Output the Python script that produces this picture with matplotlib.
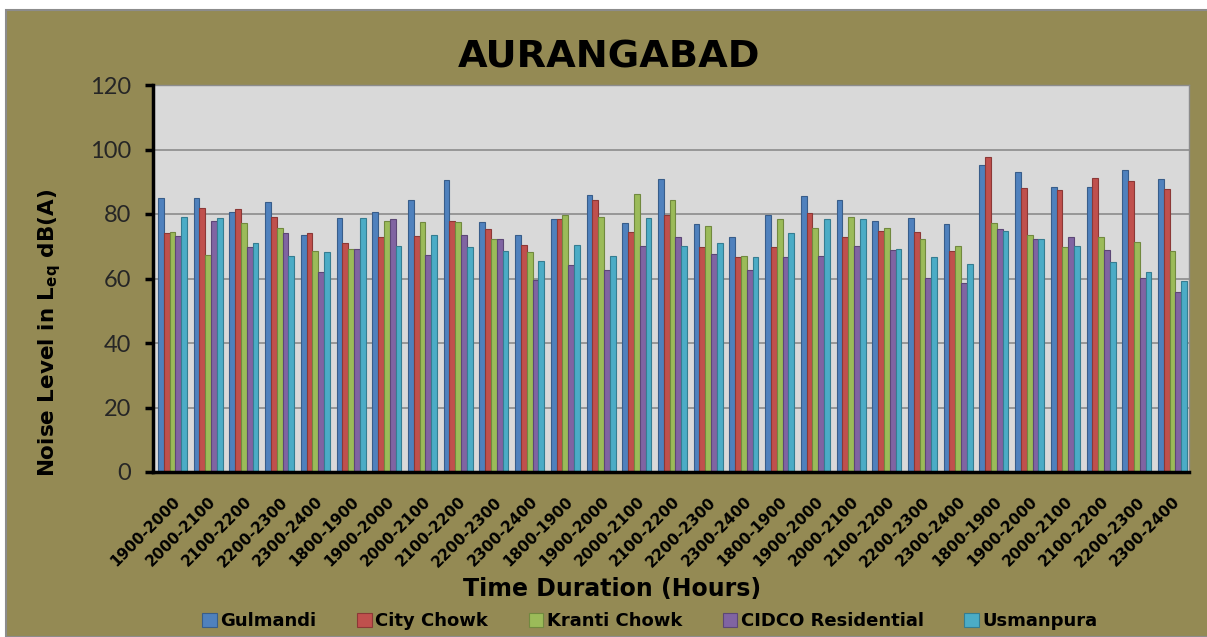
import matplotlib
matplotlib.use("Agg")
import matplotlib.pyplot as plt
from matplotlib.patches import Rectangle, Patch
import numpy as np

plt.rcParams['font.family'] = 'DejaVu Sans'
plt.rcParams['mathtext.fontset'] = 'dejavusans'

hours = ['1900-2000', '2000-2100', '2100-2200', '2200-2300', '2300-2400',
         '1800-1900', '1900-2000', '2000-2100', '2100-2200', '2200-2300', '2300-2400',
         '1800-1900', '1900-2000', '2000-2100', '2100-2200', '2200-2300', '2300-2400',
         '1800-1900', '1900-2000', '2000-2100', '2100-2200', '2200-2300', '2300-2400',
         '1800-1900', '1900-2000', '2000-2100', '2100-2200', '2200-2300', '2300-2400']

gulmandi = [85.1, 85.1, 80.7, 83.8, 73.6, 78.7, 80.7, 84.3, 90.6, 77.5, 73.6, 78.3, 85.8, 77.2, 90.9,
            76.8, 72.8, 79.6, 85.5, 84.3, 77.9, 78.7, 76.8, 95.3, 92.9, 88.5, 88.5, 93.7, 90.9]
city_chowk = [74.0, 81.9, 81.5, 79.1, 74.0, 70.9, 72.8, 73.3, 77.9, 75.2, 70.5, 78.3, 84.3, 74.4, 79.6,
              69.7, 66.6, 69.7, 80.3, 72.8, 74.8, 74.4, 68.5, 97.6, 88.1, 87.4, 91.3, 90.2, 87.8]
kranti_chowk = [74.4, 67.3, 77.2, 75.6, 68.5, 69.3, 77.9, 77.5, 77.5, 72.4, 68.1, 79.6, 79.1, 86.2, 84.3,
                76.4, 67.0, 78.3, 75.6, 79.1, 75.6, 72.1, 70.1, 77.2, 73.6, 69.7, 72.8, 71.3, 68.5]
cidco = [73.3, 77.9, 69.7, 74.0, 61.9, 69.3, 78.3, 67.3, 73.6, 72.4, 59.5, 64.2, 62.6, 70.1, 72.8,
         67.7, 62.6, 66.6, 67.0, 70.1, 68.9, 60.2, 58.7, 75.2, 72.1, 72.8, 68.9, 60.2, 55.9]
usmanpura = [79.1, 78.7, 70.9, 67.0, 68.1, 78.7, 70.1, 73.6, 69.7, 68.5, 65.3, 70.5, 67.0, 78.7, 70.1,
             70.9, 66.6, 74.0, 78.3, 78.3, 69.3, 66.6, 64.6, 74.8, 72.1, 70.1, 65.0, 61.9, 59.1]

series = ['Gulmandi', 'City Chowk', 'Kranti Chowk', 'CIDCO Residential', 'Usmanpura']
values = [gulmandi, city_chowk, kranti_chowk, cidco, usmanpura]
colors = ['#4F81BD', '#C0504D', '#9BBB59', '#8064A2', '#4BACC6']
edges = ['#385D8A', '#8C3836', '#71893F', '#5C4776', '#357D91']

olive = '#948A54'

fig = plt.figure(figsize=(12.07, 6.37), dpi=100, facecolor='white')
fig.patches.append(Rectangle((6 / 1207, 0), 1, (637 - 10) / 637, transform=fig.transFigure,
                             facecolor=olive, edgecolor='#8C8C8C', linewidth=1.5, zorder=-10))

ax = fig.add_axes([153 / 1207, 1 - 472 / 637, (1189 - 153) / 1207, (472 - 85) / 637])
ax.set_facecolor('#D9D9D9')

x = np.arange(len(hours))
w = 0.163
for i, (name, vals) in enumerate(zip(series, values)):
    ax.bar(x + (i - 2) * w, vals, width=w, color=colors[i], edgecolor=edges[i],
           linewidth=0.8, label=name, zorder=3)

ax.set_xlim(-0.546, 28.462)
ax.set_ylim(0, 120)
ax.set_yticks(range(0, 121, 20))
ax.grid(axis='y', color='#8C8C8C', linewidth=1.2, zorder=1)
ax.set_axisbelow(True)

for s in ['top', 'right']:
    ax.spines[s].set_color('#8C8C8C')
    ax.spines[s].set_linewidth(1)
for s in ['left', 'bottom']:
    ax.spines[s].set_color('black')
    ax.spines[s].set_linewidth(2.5)
    ax.spines[s].set_zorder(5)

ax.tick_params(axis='y', length=6, width=2.5, color='black', pad=10)
ax.tick_params(axis='x', length=0, pad=16)
for t in ax.get_yticklabels():
    t.set_fontfamily('Lato')
    t.set_fontsize(17)
    t.set_color('#262626')

ax.set_xticks(x)
ax.set_xticklabels(hours, rotation=45, ha='right', rotation_mode='anchor',
                   fontsize=11, fontweight='bold')

fig.text(609 / 1207, 1 - 57 / 637, 'AURANGABAD', fontsize=27.5, fontweight='bold',
         ha='center', va='center')
fig.text(50 / 1207, 1 - 333 / 637, r'Noise Level in L$_\mathbf{eq}$ dB(A)', fontsize=15.5,
         fontweight='bold', rotation=90, ha='center', va='center')
fig.text(612 / 1207, 1 - 589 / 637, 'Time Duration (Hours)', fontsize=17, fontweight='bold',
         ha='center', va='center')

handles = [Patch(facecolor=c, edgecolor=e, linewidth=0.8) for c, e in zip(colors, edges)]
fig.legend(handles, series, loc='center', bbox_to_anchor=(650 / 1207, 1 - 621 / 637), ncol=5,
           frameon=False, prop={'weight': 'bold', 'size': 13},
           handlelength=0.8, handleheight=0.8, handletextpad=0.2, columnspacing=2.25,
           borderpad=0)

fig.savefig('out.png', dpi=100, facecolor='white')
